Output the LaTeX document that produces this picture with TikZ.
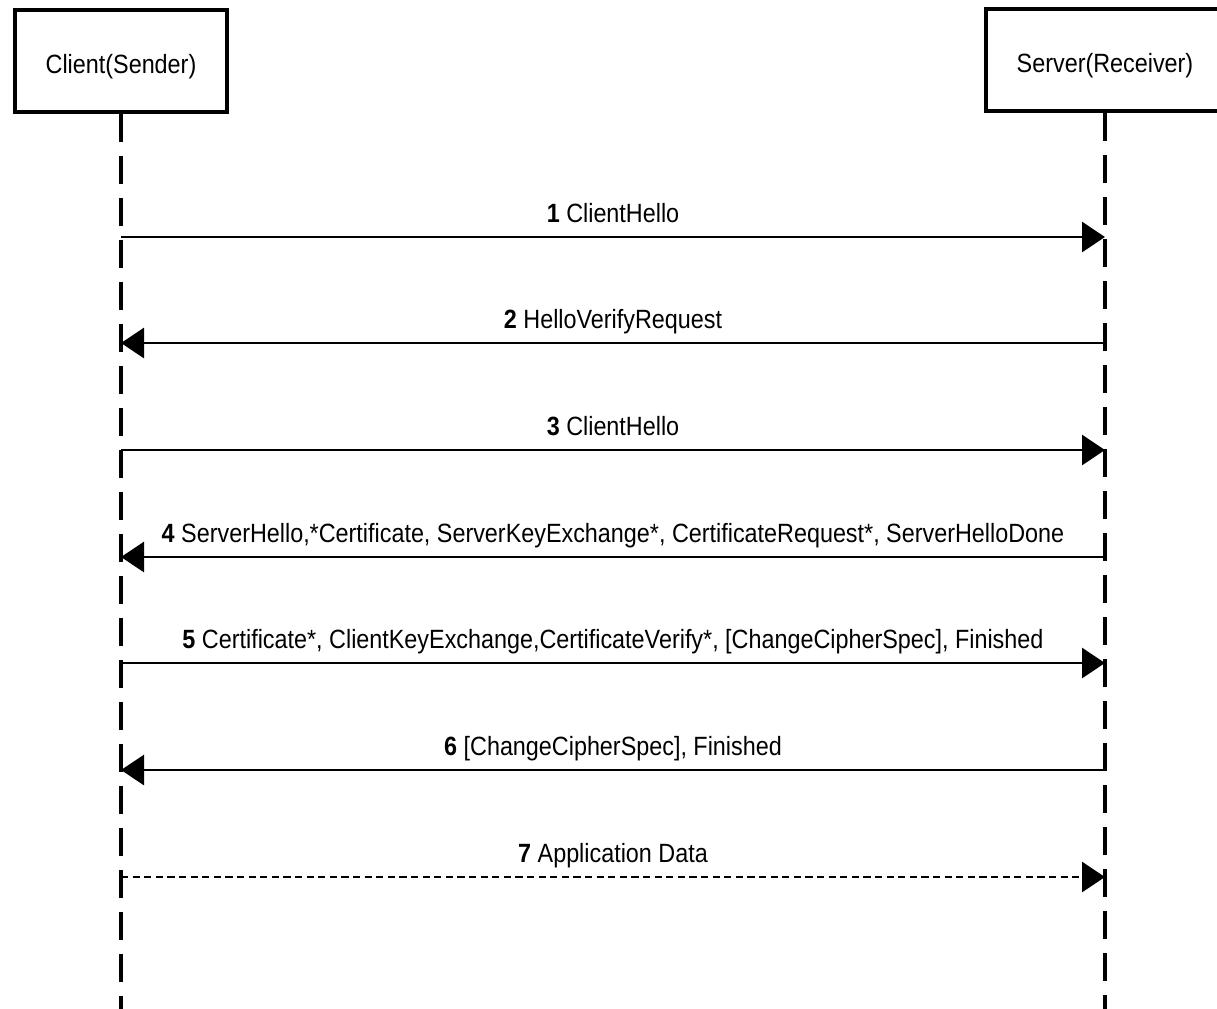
\documentclass[tikz,border=0pt]{standalone}
\usepackage{fontspec}
\setmainfont[FakeStretch=0.885]{Liberation Sans}
\usepackage{tikz}
\usetikzlibrary{arrows.meta,positioning}

\begin{document}
\begin{tikzpicture}[%
    x=0.5pt, y=-0.5pt,          % one unit is one pixel of the sketch
    >={Triangle[length=11.5pt,width=15pt]},
    node distance=2cm,
    ]

\tikzset{
    base/.style={align=center, font={\fontsize{13.2}{16}\selectfont}},
    actor/.style={base, draw, line width=2pt, minimum height=51pt, text height=15pt, text depth=2.6pt},
    life/.style={line width=1.7pt, dash pattern=on 14pt off 7pt},
    msg/.style={->, line width=1.4pt},
    async/.style={msg, dash pattern=on 3.6pt off 2.2pt},
    lbl/.style={base, midway, anchor=base, yshift=7.5pt, inner sep=0pt},
}

\useasboundingbox (0,0) rectangle (1217,1008);

%% Lifelines
\node [actor, minimum width=106pt] (client) at (121,61) {Client(Sender)};
\node [actor, minimum width=119.5pt] (server) at (1105,60) {Server(Receiver)};
    \coordinate (cend) at (client |- 0,1012);
    \coordinate (send) at (server |- 0,1012);
    \draw [life] (client.south) -- (cend);
    \draw [life] (server.south) -- (send);

%% Handshake
\coordinate (c1) at (client |- 0,237); \coordinate (s1) at (server |- 0,237);
    \draw [msg] (c1) -- (s1) node [lbl] {\textbf{1} ClientHello};
\coordinate (c2) at (client |- 0,343); \coordinate (s2) at (server |- 0,343);
    \draw [msg] (s2) -- (c2) node [lbl] {\textbf{2} HelloVerifyRequest};
\coordinate (c3) at (client |- 0,450); \coordinate (s3) at (server |- 0,450);
    \draw [msg] (c3) -- (s3) node [lbl] {\textbf{3} ClientHello};
\coordinate (c4) at (client |- 0,557); \coordinate (s4) at (server |- 0,557);
    \draw [msg] (s4) -- (c4) node [lbl] {\textbf{4} ServerHello,*Certificate, ServerKeyExchange*, CertificateRequest*, ServerHelloDone};
\coordinate (c5) at (client |- 0,663); \coordinate (s5) at (server |- 0,663);
    \draw [msg] (c5) -- (s5) node [lbl] {\textbf{5} Certificate*, ClientKeyExchange,CertificateVerify*, [ChangeCipherSpec], Finished};
\coordinate (c6) at (client |- 0,770); \coordinate (s6) at (server |- 0,770);
    \draw [msg] (s6) -- (c6) node [lbl] {\textbf{6} [ChangeCipherSpec], Finished};

%% Data
\coordinate (c7) at (client |- 0,877); \coordinate (s7) at (server |- 0,877);
    \draw [async] (c7) -- (s7) node [lbl] {\textbf{7} Application Data};
\end{tikzpicture}
\end{document}
